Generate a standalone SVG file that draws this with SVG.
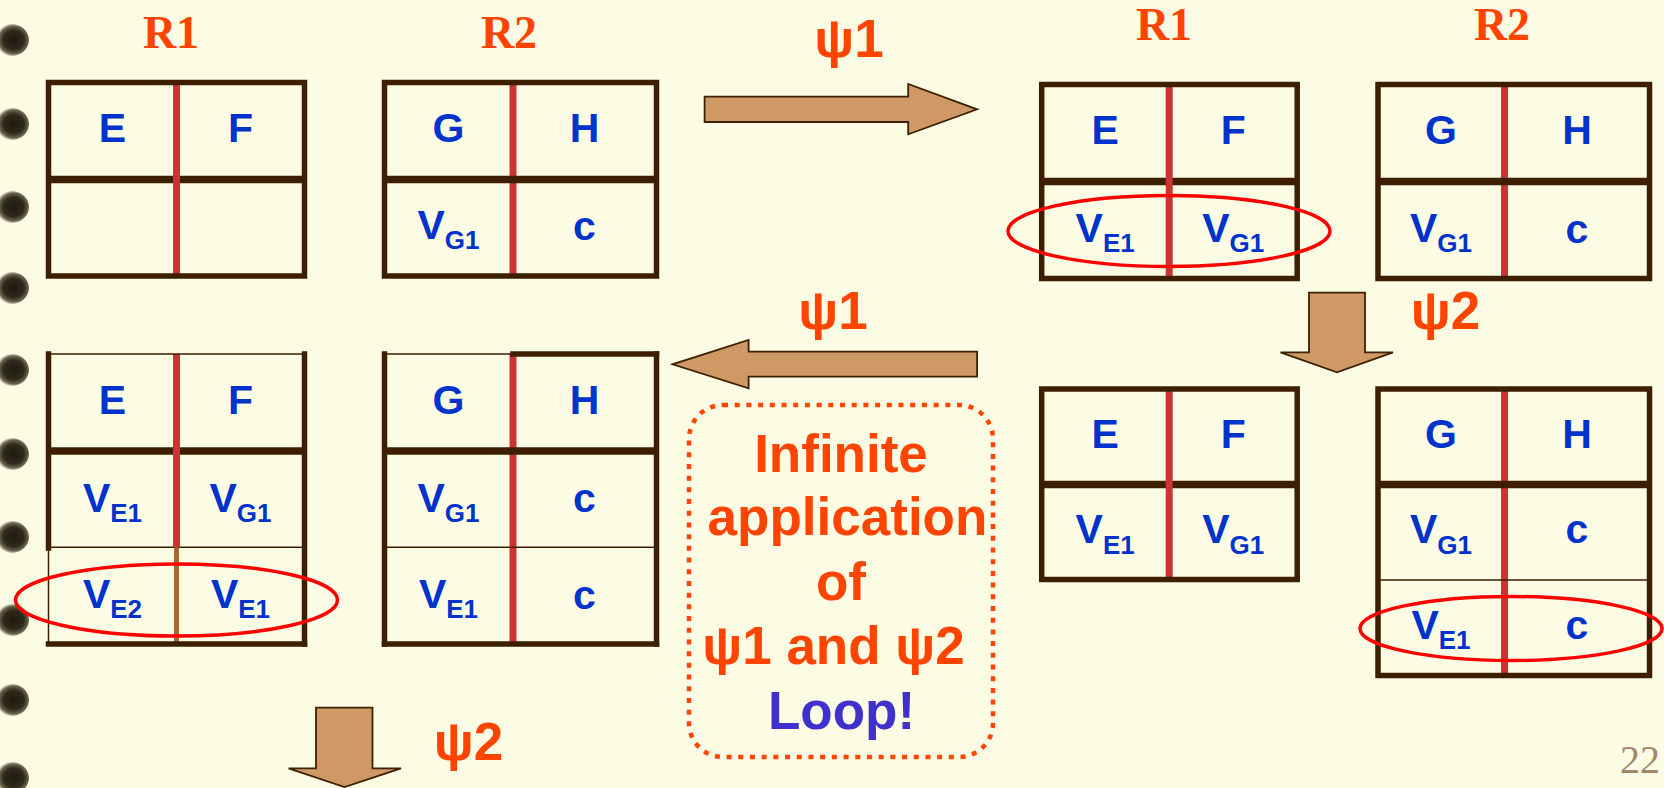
<svg xmlns="http://www.w3.org/2000/svg" width="1664" height="788" viewBox="0 0 1664 788">
<style>
.bd{fill:none;stroke:#3D1F00;stroke-width:5.5}
.bl{stroke:#3D1F00;stroke-width:5.5;stroke-linecap:square}
.mid{stroke:#3D1F00;stroke-width:7.5}
.thin{stroke:#3D1F00;stroke-width:1.5}
.red{stroke:#CC3333;stroke-width:7}
.tan{stroke:#A06A30;stroke-width:5}
.t{font-family:"Liberation Sans",Arial,sans-serif;font-weight:bold;font-size:41px;fill:#0033CC;text-anchor:middle}
.s{font-size:26px}
.psi{font-family:"Liberation Sans",Arial,sans-serif;font-weight:bold;font-size:53px;fill:#FF4400;text-anchor:middle}
.loop{fill:#4030CC}
.rl{font-family:"Liberation Serif","Times New Roman",serif;font-weight:bold;font-size:46px;fill:#FF4400;text-anchor:middle}
.arr{fill:#CF9966;stroke:#3D2000;stroke-width:1.8}
.hl{fill:none;stroke:#FF0000;stroke-width:3.5}
.pg{font-family:"Liberation Serif","Times New Roman",serif;font-size:40px;fill:#A08868;text-anchor:end}
</style>
<defs>
<radialGradient id="bead" cx="0.55" cy="0.5" r="0.55">
<stop offset="0" stop-color="#1E1A10"/>
<stop offset="0.55" stop-color="#302A1C"/>
<stop offset="0.8" stop-color="#6E6650"/>
<stop offset="1" stop-color="#B8B294" stop-opacity="0"/>
</radialGradient>
<ellipse id="b" cx="0" cy="0" rx="17" ry="16" fill="url(#bead)"/>
</defs>
<rect width="1664" height="788" fill="#FCFCE4"/>

<g id="bullets">
<use href="#b" x="12" y="40"/>
<use href="#b" x="12" y="124"/>
<use href="#b" x="12" y="207"/>
<use href="#b" x="12" y="288"/>
<use href="#b" x="12" y="370"/>
<use href="#b" x="12" y="454"/>
<use href="#b" x="12" y="537"/>
<use href="#b" x="12" y="620"/>
<use href="#b" x="12" y="700"/>
<use href="#b" x="12" y="778"/>
</g>

<g id="labels">
<text class="rl" x="171" y="47.5">R1</text>
<text class="rl" x="509" y="47.5">R2</text>
<text class="rl" x="1164" y="39.5">R1</text>
<text class="rl" x="1502" y="39.5">R2</text>
</g>

<g id="t1" transform="translate(48.5,82.5)">
<line class="mid" x1="0" y1="97" x2="256" y2="97"/>
<line class="red" x1="128" y1="0" x2="128" y2="193.5"/>
<rect class="bd" x="0" y="0" width="256" height="193.5"/>
<text class="t" x="64" y="59.5">E</text>
<text class="t" x="192" y="59.5">F</text>
</g>

<g id="t2" transform="translate(384.5,82.5)">
<line class="red" x1="128.5" y1="0" x2="128.5" y2="193.5"/>
<line class="mid" x1="0" y1="97" x2="272" y2="97"/>
<rect class="bd" x="0" y="0" width="272" height="193.5"/>
<text class="t" x="64" y="59.5">G</text>
<text class="t" x="200" y="59.5">H</text>
<text class="t" x="64" y="156">V<tspan class="s" dy="10.5">G1</tspan></text>
<text class="t" x="200" y="157">c</text>
</g>

<g id="t3" transform="translate(1041.7,84.5)">
<line class="mid" x1="0" y1="97" x2="255.5" y2="97"/>
<line class="red" x1="127.5" y1="0" x2="127.5" y2="194"/>
<rect class="bd" x="0" y="0" width="255.5" height="194"/>
<text class="t" x="63.5" y="59">E</text>
<text class="t" x="191.5" y="59">F</text>
<text class="t" x="63.5" y="157">V<tspan class="s" dy="10.5">E1</tspan></text>
<text class="t" x="191.5" y="157">V<tspan class="s" dy="10.5">G1</tspan></text>
</g>

<g id="t4" transform="translate(1378,84.5)">
<line class="red" x1="126.5" y1="0" x2="126.5" y2="194"/>
<line class="mid" x1="0" y1="97" x2="271.5" y2="97"/>
<rect class="bd" x="0" y="0" width="271.5" height="194"/>
<text class="t" x="63" y="59">G</text>
<text class="t" x="199" y="59">H</text>
<text class="t" x="63" y="157">V<tspan class="s" dy="10.5">G1</tspan></text>
<text class="t" x="199" y="158">c</text>
</g>

<g id="t5" transform="translate(48.5,354)">
<line class="mid" x1="0" y1="97" x2="256" y2="97"/>
<line class="thin" x1="0" y1="193.3" x2="256" y2="193.3"/>
<line class="red" x1="128" y1="0" x2="128" y2="193.3"/>
<line class="tan" x1="128" y1="193.3" x2="128" y2="290"/>
<line class="thin" x1="0" y1="0" x2="256" y2="0"/>
<line class="bl" x1="0" y1="0" x2="0" y2="194"/>
<line class="thin" x1="0" y1="193" x2="0" y2="290"/>
<line class="bl" x1="256" y1="0" x2="256" y2="290"/>
<line class="bl" x1="0" y1="290" x2="256" y2="290"/>
<text class="t" x="64" y="59.5">E</text>
<text class="t" x="192" y="59.5">F</text>
<text class="t" x="64" y="157.5">V<tspan class="s" dy="10.5">E1</tspan></text>
<text class="t" x="192" y="157.5">V<tspan class="s" dy="10.5">G1</tspan></text>
<text class="t" x="64" y="253.5">V<tspan class="s" dy="10.5">E2</tspan></text>
<text class="t" x="192" y="253.5">V<tspan class="s" dy="10.5">E1</tspan></text>
</g>

<g id="t6" transform="translate(384.5,354)">
<line class="red" x1="128.5" y1="0" x2="128.5" y2="290"/>
<line class="mid" x1="0" y1="97" x2="272" y2="97"/>
<line class="thin" x1="0" y1="193.3" x2="272" y2="193.3"/>
<line class="thin" x1="0" y1="0" x2="128.5" y2="0"/>
<line class="bl" x1="128.5" y1="0" x2="272" y2="0"/>
<line class="bl" x1="0" y1="0" x2="0" y2="290"/>
<line class="bl" x1="272" y1="0" x2="272" y2="290"/>
<line class="bl" x1="0" y1="290" x2="272" y2="290"/>
<text class="t" x="64" y="60">G</text>
<text class="t" x="200" y="60">H</text>
<text class="t" x="64" y="157.5">V<tspan class="s" dy="10.5">G1</tspan></text>
<text class="t" x="200" y="157.5">c</text>
<text class="t" x="64" y="253.5">V<tspan class="s" dy="10.5">E1</tspan></text>
<text class="t" x="200" y="254.5">c</text>
</g>

<g id="t7" transform="translate(1041.7,389)">
<line class="mid" x1="0" y1="95.5" x2="255.5" y2="95.5"/>
<line class="red" x1="127.5" y1="0" x2="127.5" y2="190.5"/>
<rect class="bd" x="0" y="0" width="255.5" height="190.5"/>
<text class="t" x="63.5" y="58.5">E</text>
<text class="t" x="191.5" y="58.5">F</text>
<text class="t" x="63.5" y="154">V<tspan class="s" dy="10.5">E1</tspan></text>
<text class="t" x="191.5" y="154">V<tspan class="s" dy="10.5">G1</tspan></text>
</g>

<g id="t8" transform="translate(1378,389)">
<line class="red" x1="126.5" y1="0" x2="126.5" y2="286.5"/>
<line class="mid" x1="0" y1="95.5" x2="271.5" y2="95.5"/>
<line class="thin" x1="0" y1="191" x2="271.5" y2="191"/>
<rect class="bd" x="0" y="0" width="271.5" height="286.5"/>
<text class="t" x="63" y="58.5">G</text>
<text class="t" x="199" y="58.5">H</text>
<text class="t" x="63" y="154">V<tspan class="s" dy="10.5">G1</tspan></text>
<text class="t" x="199" y="154">c</text>
<text class="t" x="63" y="249.5">V<tspan class="s" dy="10.5">E1</tspan></text>
<text class="t" x="199" y="249.5">c</text>
</g>

<g id="highlights">
<ellipse class="hl" cx="1169" cy="231" rx="161" ry="35.5"/>
<ellipse class="hl" cx="176.5" cy="600" rx="161" ry="36"/>
<ellipse class="hl" cx="1511" cy="628.5" rx="151" ry="32"/>
</g>

<g id="connectors">
<polygon class="arr" points="704.6,96.7 908.2,96.7 908.2,84 977.1,109.3 908.2,134.3 908.2,122 704.6,122"/>
<polygon class="arr" points="977.1,351.7 748.6,351.7 748.6,340 672.5,364.3 748.6,388.3 748.6,376.7 977.1,376.7"/>
<polygon class="arr" points="1309,292.7 1365,292.7 1365,352.3 1393,352.3 1337,372.3 1280.5,352.3 1309,352.3"/>
<polygon class="arr" points="316,707.7 372.5,707.7 372.5,768.3 401,768.3 344.5,787 288.6,768.3 316,768.3"/>
<text class="psi" x="849" y="56.5">ψ1</text>
<text class="psi" x="833" y="328.5">ψ1</text>
<text class="psi" x="1445.5" y="328.5">ψ2</text>
<text class="psi" x="468.5" y="760">ψ2</text>
</g>

<g id="note">
<rect x="689" y="405" width="304" height="352" rx="34" ry="34" fill="none" stroke="#FF4400" stroke-width="4.5" stroke-dasharray="5 6.7"/>
<text class="psi" x="841" y="471.5">Infinite</text>
<text class="psi" x="847.5" y="535">application</text>
<text class="psi" x="841" y="600">of</text>
<text class="psi" x="833.5" y="663.5">ψ1 and ψ2</text>
<text class="psi loop" x="841.5" y="728.5">Loop!</text>
</g>

<text class="pg" x="1660" y="773">22</text>
</svg>
